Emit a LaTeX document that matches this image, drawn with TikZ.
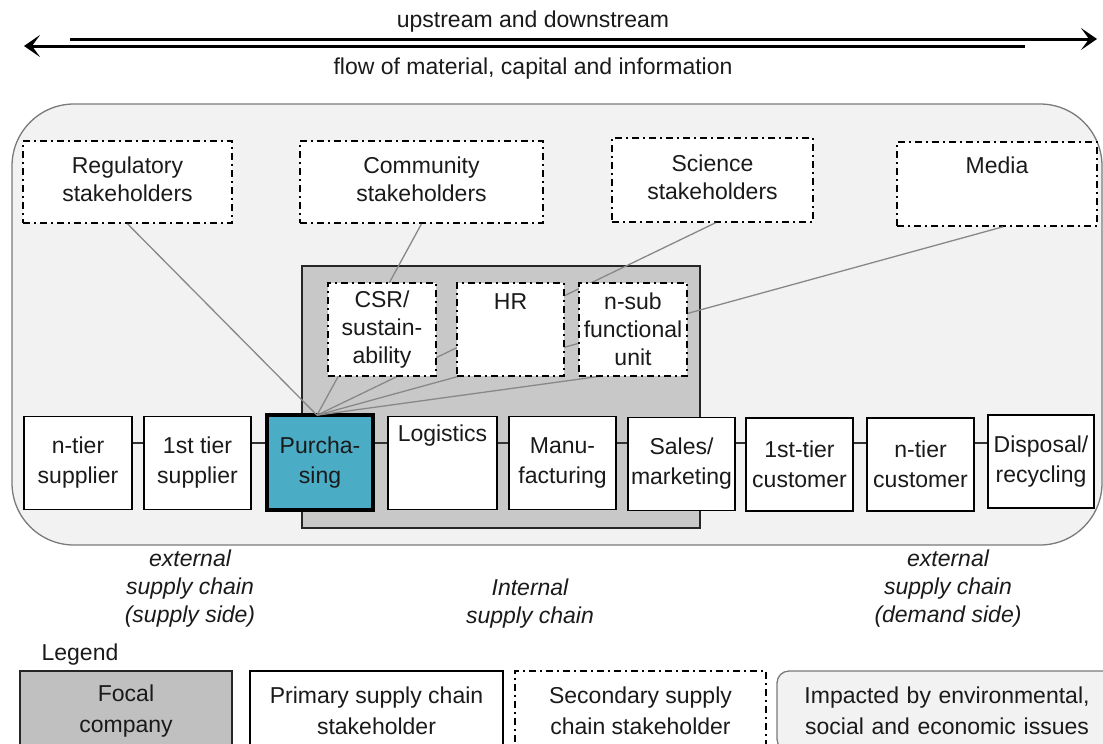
\documentclass[tikz,border=0pt]{standalone}
\usepackage{fontspec}
\setmainfont{Liberation Sans}
\usetikzlibrary{arrows.meta}
\definecolor{outerfill}{HTML}{F2F2F2}
\definecolor{outerline}{HTML}{7A7A7A}
\definecolor{focalfill}{HTML}{C8C8C8}
\definecolor{legfocal}{HTML}{C0C0C0}
\definecolor{purfill}{HTML}{4BACC6}
\definecolor{linkgray}{HTML}{888888}
\definecolor{txt}{HTML}{1A1A1A}
\begin{document}
\begin{tikzpicture}[x=1pt,y=-1pt,
  every node/.style={font=\fontsize{23}{28}\selectfont, align=center, inner sep=0pt, text=txt},
  primbox/.style={draw=black, line width=1.6pt, fill=white},
  secbox/.style={draw=black, line width=1.6pt, fill=white, dash pattern=on 7pt off 4pt on 2pt off 4pt},
  rowbox/.style={primbox, minimum width=107pt, minimum height=93pt, font=\fontsize{23}{30}\selectfont},
  link/.style={draw=linkgray, line width=1.3pt},
  chainlink/.style={draw=black!80, line width=1.4pt},
  flowarrow/.style={line width=3pt, -{Stealth[length=16pt,width=22pt,inset=8pt]}},
  sidelabel/.style={font=\fontsize{23}{28}\selectfont\itshape},
  legtext/.style={font=\fontsize{23}{31}\selectfont}
]
\clip (0,0) rectangle (1103,744);
\useasboundingbox (0,0) rectangle (1103,744);

% top arrows
\coordinate (a1s) at (70,39);
\coordinate (a1e) at (1097,39);
\coordinate (a2s) at (1025,46);
\coordinate (a2e) at (24,46);
\draw[flowarrow] (a1s) -- (a1e);
\draw[flowarrow] (a2s) -- (a2e);
\node (upd) at (533,22) {upstream and downstream};
\node (flow) at (533,69) {flow of material, capital and information};

% outer rounded area
\node[draw=outerline, fill=outerfill, line width=1.3pt, rounded corners=62pt,
  minimum width=1090pt, minimum height=441pt] (outer) at (557,324.5) {};

% focal company
\node[draw=black!85, fill=focalfill, line width=1.6pt, minimum width=398pt, minimum height=262pt] (focal) at (501,397) {};

% stakeholders
\node[secbox, minimum width=209pt, minimum height=82pt] (reg) at (127.5,182) {Regulatory\\stakeholders\\[-22pt]\mbox{}};
\node[secbox, minimum width=243pt, minimum height=82pt] (com) at (421.5,182) {Community\\stakeholders\\[-22pt]\mbox{}};
\node[secbox, minimum width=201pt, minimum height=84pt] (sci) at (712.5,180) {Science\\stakeholders\\[-22pt]\mbox{}};
\node[secbox, minimum width=200pt, minimum height=84pt] (med) at (997,184) {Media\\[10pt]\mbox{}};

% focal purchasing unit
\node[rowbox, minimum width=106pt, minimum height=95pt, fill=purfill, line width=3.6pt] (pur) at (320,462.5) {Purcha-\\sing};
\coordinate (P) at ([xshift=-3pt,yshift=-2pt]pur.north);

% links (behind inner boxes)
\coordinate (nsubend) at (602,376);
\draw[link] (P) -- (reg.south);
\draw[link] (P) -- (com.south);
\draw[link] (P) -- ([xshift=3pt]sci.south);
\draw[link] (P) -- ([xshift=6pt]med.south);
\draw[link] (P) -- (nsubend);

% internal functional units
\node[secbox, minimum width=108pt, minimum height=93pt] (csr) at (382,329.5) {CSR/\\sustain-\\ability};
\node[secbox, minimum width=107pt, minimum height=93pt] (hr) at (510.5,329.5) {HR\\ \\ };
\node[secbox, minimum width=108pt, minimum height=93pt] (nsub) at (633,329.5) {n-sub\\functional\\unit};

% bottom row
\node[rowbox, minimum width=108pt] (nts) at (78,463) {n-tier\\supplier};
\node[rowbox] (fts) at (197.5,463) {1st tier\\supplier};
\node[rowbox, minimum width=109pt] (log) at (442.5,463) {Logistics\\ \\ };
\node[rowbox] (man) at (562.5,463) {Manu-\\facturing};
\node[rowbox] (sal) at (681.5,464) {Sales/\\marketing};
\node[rowbox] (ftc) at (799.5,464.5) {1st-tier\\customer};
\node[rowbox] (ntc) at (920.5,464.5) {n-tier\\customer};
\node[rowbox, minimum width=106pt] (dis) at (1041,461.5) {Disposal/\\recycling};

\coordinate (cl) at (0,443);
\draw[chainlink] (nts.east |- cl) -- (fts.west |- cl);
\draw[chainlink] (fts.east |- cl) -- (pur.west |- cl);
\draw[chainlink] (pur.east |- cl) -- (log.west |- cl);
\draw[chainlink] (log.east |- cl) -- (man.west |- cl);
\draw[chainlink] (man.east |- cl) -- (sal.west |- cl);
\draw[chainlink] (sal.east |- cl) -- (ftc.west |- cl);
\draw[chainlink] (ftc.east |- cl) -- (ntc.west |- cl);
\draw[chainlink] (ntc.east |- cl) -- (dis.west |- cl);

% side labels
\node[sidelabel] (extsup) at (190,589) {external\\supply chain\\(supply side)};
\node[sidelabel] (intsup) at (530,603.5) {Internal\\supply chain};
\node[sidelabel] (extdem) at (948,589) {external\\supply chain\\(demand side)};

% legend
\node (legend) at (80,655) {Legend};
\node[legtext, draw=black!85, fill=legfocal, line width=1.6pt, minimum width=212pt, minimum height=80pt] (lfocal) at (126,711) {Focal\\company};
\node[legtext, primbox, minimum width=253pt, minimum height=80pt] (lprim) at (376.5,711) {Primary supply chain\\stakeholder};
\node[legtext, secbox, minimum width=251pt, minimum height=80pt] (lsec) at (640.5,711) {Secondary supply\\chain stakeholder};
\node[legtext, draw=outerline, fill=outerfill, line width=1.3pt, rounded corners=12pt, minimum width=340pt, minimum height=80pt, text width=320pt] (limp) at (947,711) {Impacted by environmental,\\social and economic issues};
\end{tikzpicture}
\end{document}
